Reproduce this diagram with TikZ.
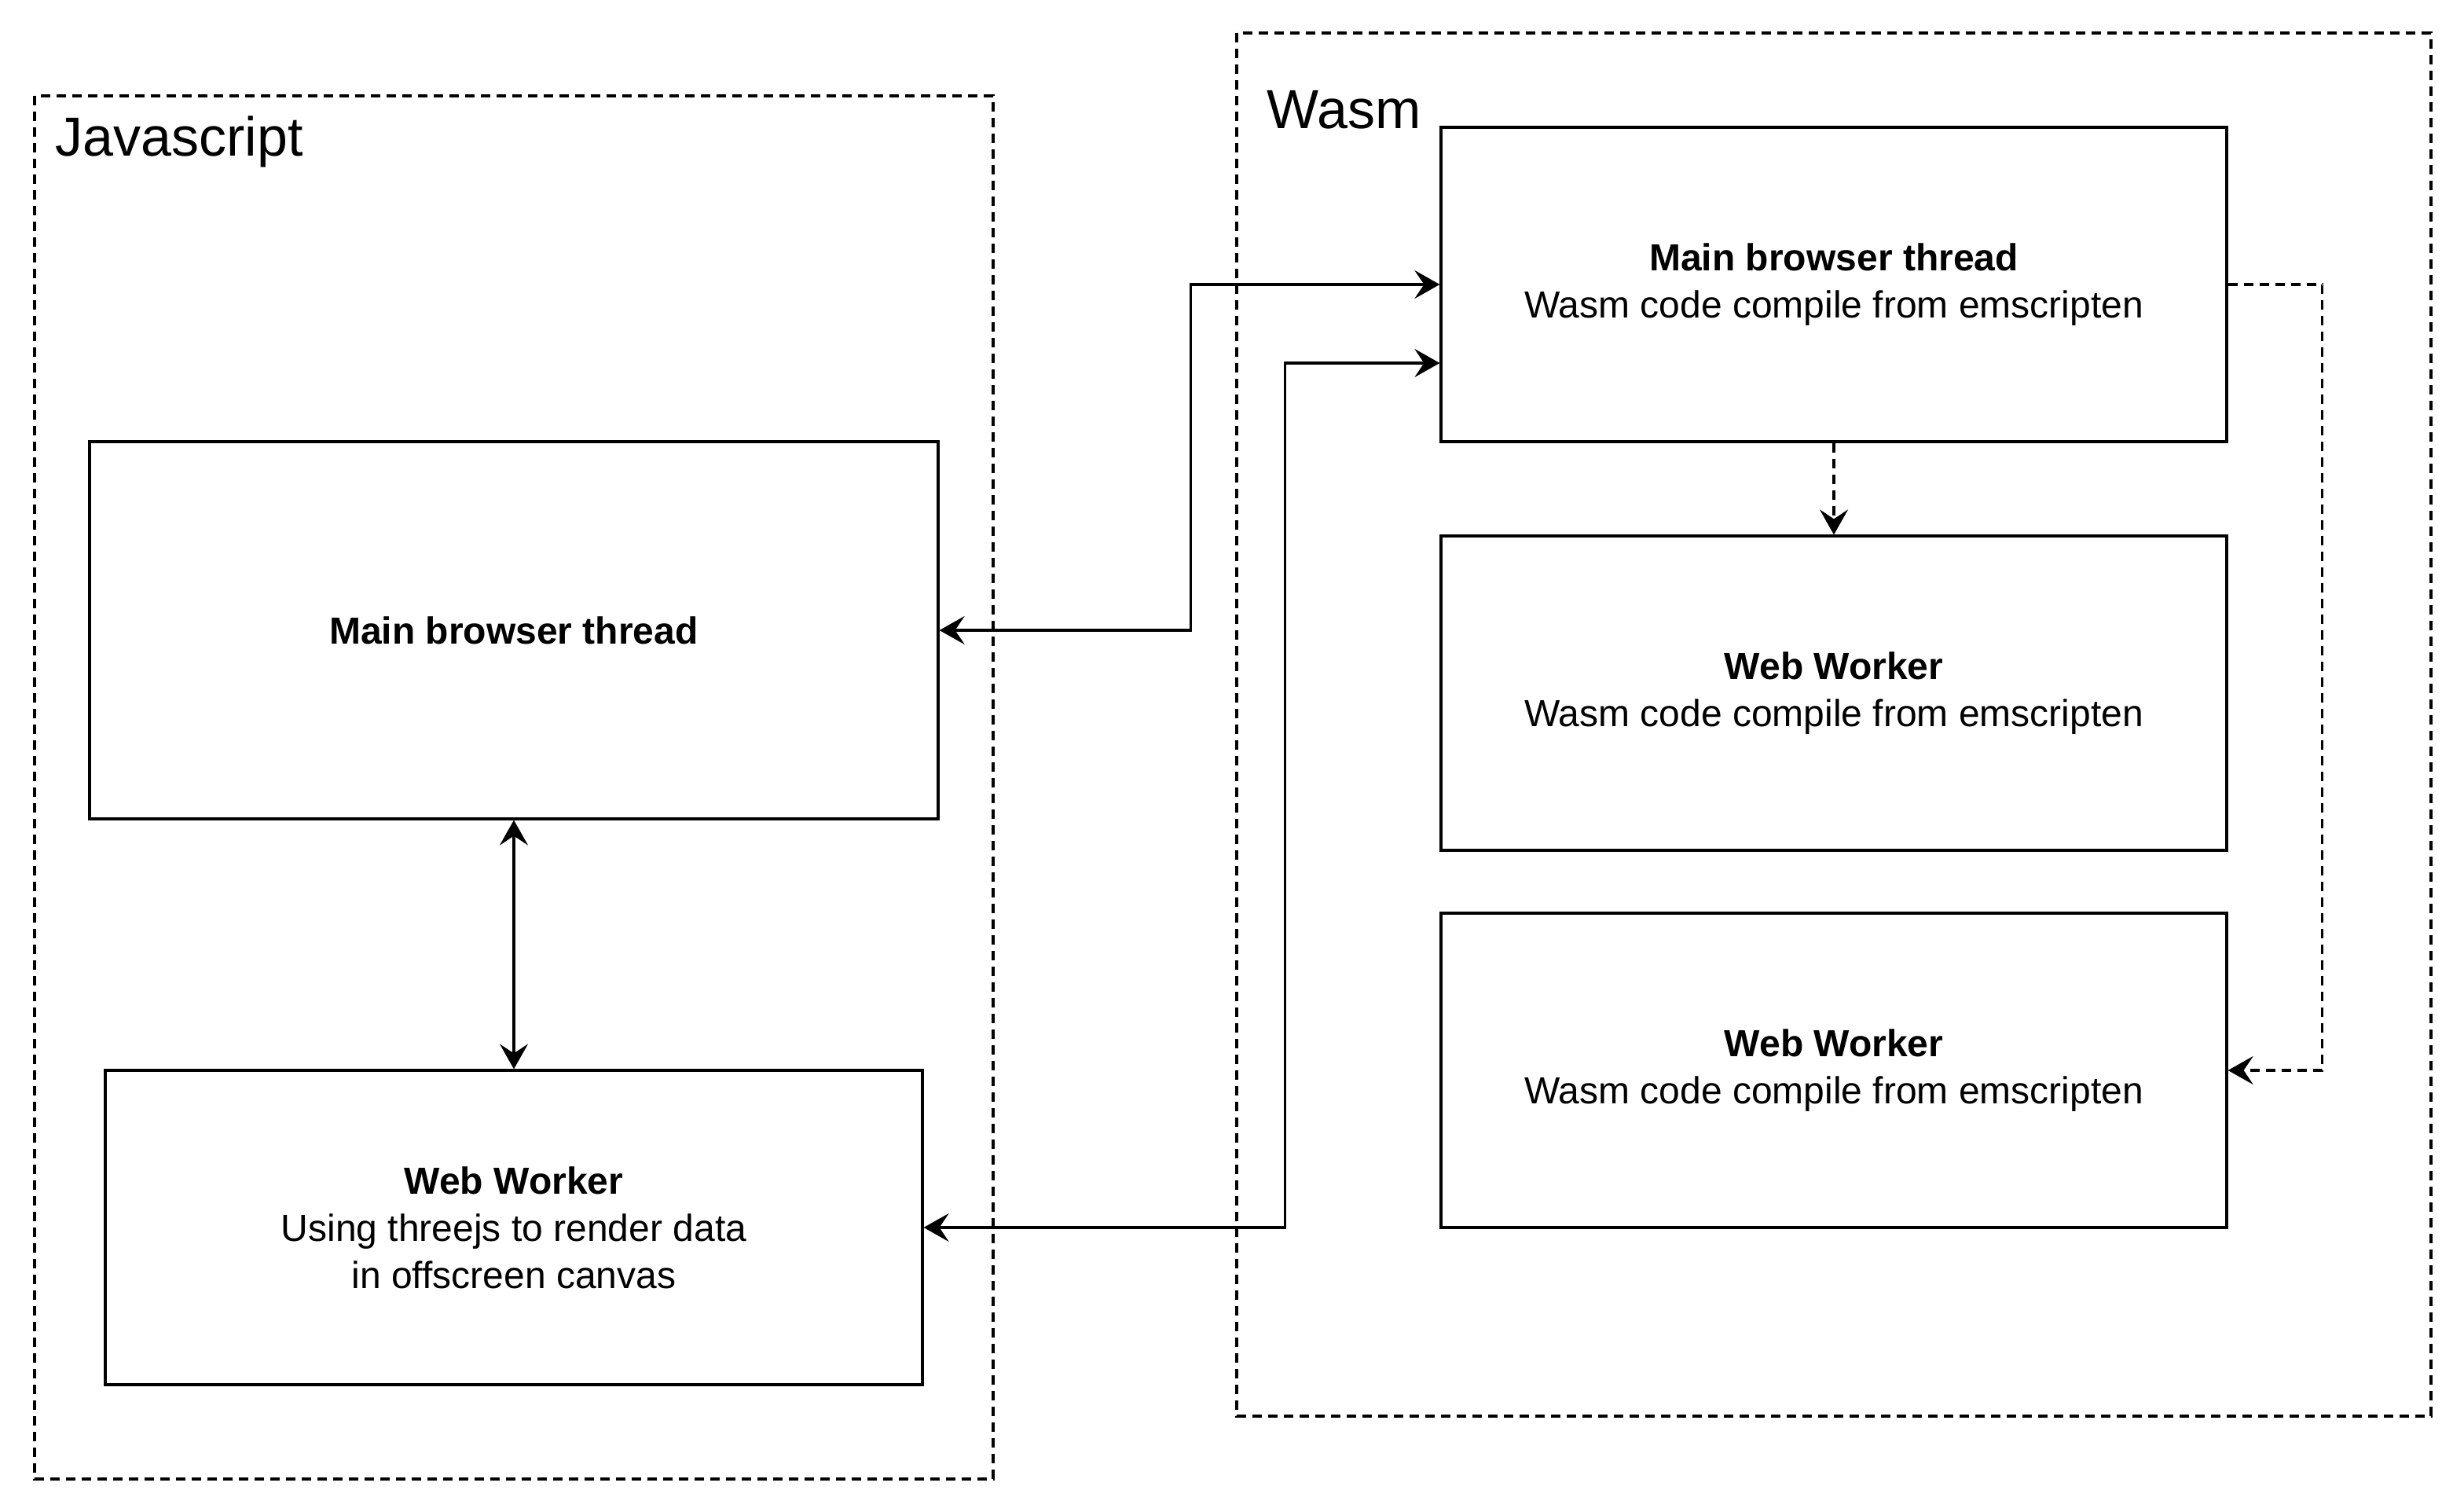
\documentclass[tikz,border=0pt]{standalone}
\usepackage{fontspec}
\setmainfont{Liberation Sans}
\usetikzlibrary{arrows.meta, positioning}
\tikzset{
  box/.style={rectangle, draw=black, line width=0.8pt, align=center,
    font=\fontsize{12}{15}\selectfont, inner sep=0pt},
  group/.style={draw=black, line width=0.8pt, dash pattern=on 3pt off 2pt},
  grouplabel/.style={anchor=west, inner sep=0pt,
    font=\fontsize{17.5}{21}\selectfont},
  arrow/.style={-{Stealth[length=8pt, width=9pt, inset=3pt]}, line width=0.8pt},
  biarrow/.style={{Stealth[length=8pt, width=9pt, inset=3pt]}-{Stealth[length=8pt, width=9pt, inset=3pt]}, line width=0.8pt},
  dasharrow/.style={arrow, dash pattern=on 3pt off 2pt}
}
\begin{document}
\begin{tikzpicture}[x=1pt, y=-1pt]
  \useasboundingbox (0,0) rectangle (784,481);

  % Groups
  \draw[group] (11,30.5) rectangle (316,470.5);
  \node[grouplabel] (jslabel) at (17.5,45) {Javascript};
  \draw[group] (393.5,10.5) rectangle (773.5,450.5);
  \node[grouplabel] (wasmlabel) at (403,35) {Wasm};

  % Javascript side
  \node[box, minimum width=270pt, minimum height=120pt] (jsmain) at (163.5,200.5)
    {\textbf{Main browser thread}};
  \node[box, minimum width=260pt, minimum height=100pt] (jsww) at (163.5,390.5)
    {\textbf{Web Worker}\\Using threejs to render data\\in offscreen canvas};

  % Wasm side
  \node[box, minimum width=250pt, minimum height=100pt] (wmain) at (583.5,90.5)
    {\textbf{Main browser thread}\\Wasm code compile from emscripten};
  \node[box, minimum width=250pt, minimum height=100pt] (ww1) at (583.5,220.5)
    {\textbf{Web Worker}\\Wasm code compile from emscripten};
  \node[box, minimum width=250pt, minimum height=100pt] (ww2) at (583.5,340.5)
    {\textbf{Web Worker}\\Wasm code compile from emscripten};

  % Connectors
  \draw[biarrow] (jsmain.south) -- (jsww.north);
  \draw[biarrow] (jsmain.east) -- ++(80,0) |- (wmain.west);
  \draw[biarrow] (jsww.east) -- ++(115,0) |- ([yshift=-25pt]wmain.west);
  \draw[dasharrow] (wmain.south) -- (ww1.north);
  \draw[dasharrow] (wmain.east) -- ++(30,0) |- (ww2.east);
\end{tikzpicture}
\end{document}
